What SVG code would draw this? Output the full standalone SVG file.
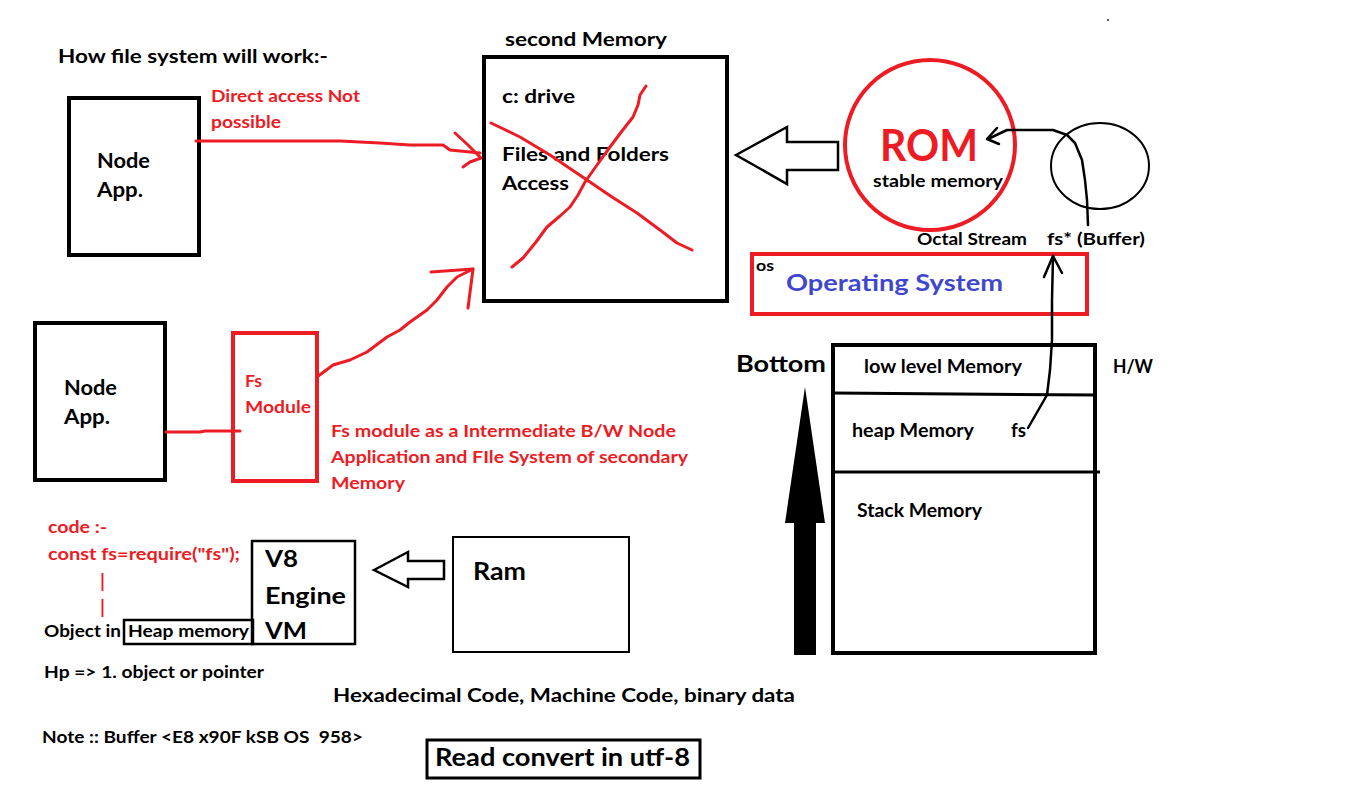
<svg xmlns="http://www.w3.org/2000/svg" width="1360" height="811" viewBox="0 0 1360 811">
<style>
text{font-family:Lato,"Open Sans","Noto Sans",sans-serif;font-weight:bold;fill:#000}
.r{fill:#ed1c24}
.b{fill:#3f48cc}
.box{fill:none;stroke:#000;stroke-width:4}
.rbox{fill:none;stroke:#ed1c24;stroke-width:4}
.thin{fill:none;stroke:#000;stroke-width:2.5}
.rl{fill:none;stroke:#ed1c24;stroke-width:3;stroke-linecap:round;stroke-linejoin:round}
.bl{fill:none;stroke:#000;stroke-width:2.5;stroke-linecap:round;stroke-linejoin:round}
</style>
<rect width="1360" height="811" fill="#fff"/>
<rect x="1107" y="19" width="2" height="2" fill="#555"/>

<text x="58" y="63" font-size="19" textLength="270" lengthAdjust="spacingAndGlyphs">How file system will work:-</text>

<g id="node-app-1">
<rect class="box" x="69" y="98" width="130" height="157"/>
<text x="97" y="168" font-size="20" textLength="53" lengthAdjust="spacingAndGlyphs">Node</text>
<text x="97" y="197" font-size="20" textLength="46" lengthAdjust="spacingAndGlyphs">App.</text>
</g>
<g id="direct-label">
<text class="r" x="211" y="102" font-size="17" textLength="149" lengthAdjust="spacingAndGlyphs">Direct access Not</text>
<text class="r" x="211" y="128" font-size="17" textLength="70" lengthAdjust="spacingAndGlyphs">possible</text>
</g>

<g id="second-memory">
<text x="505" y="46" font-size="19" textLength="162" lengthAdjust="spacingAndGlyphs">second Memory</text>
<rect class="box" x="484" y="57" width="243" height="244"/>
<text x="502" y="103" font-size="19" textLength="73" lengthAdjust="spacingAndGlyphs">c: drive</text>
<text x="502" y="161" font-size="19" textLength="167" lengthAdjust="spacingAndGlyphs">Files and Folders</text>
<text x="502" y="190" font-size="19" textLength="67" lengthAdjust="spacingAndGlyphs">Access</text>
<polyline class="rl" points="491,123 520,137 550,155 587,180 612,197 637,213 660,230 677,243 692,250"/>
<polyline class="rl" points="512,267 523,258 536,242 547,227 560,216 570,207 578,195 585,182 597,165 610,147 622,131 633,117 638,105 640,95 646,86"/>
</g>

<g id="rom">
<ellipse cx="930" cy="145" rx="85" ry="85" fill="none" stroke="#ed1c24" stroke-width="4"/>
<text class="r" x="880" y="161" font-size="43" textLength="98" lengthAdjust="spacingAndGlyphs">ROM</text>
<text x="873" y="187" font-size="17" textLength="130" lengthAdjust="spacingAndGlyphs">stable memory</text>
</g>

<g id="buffer">
<ellipse cx="1100" cy="166" rx="49" ry="43" fill="none" stroke="#000" stroke-width="2"/>
<text x="1047" y="245" font-size="17" textLength="98" lengthAdjust="spacingAndGlyphs">fs* (Buffer)</text>
</g>
<text x="917" y="245" font-size="17" textLength="110" lengthAdjust="spacingAndGlyphs">Octal Stream</text>

<g id="os">
<rect class="rbox" x="752" y="254" width="335" height="60"/>
<text x="756" y="271" font-size="16" textLength="18" lengthAdjust="spacingAndGlyphs">os</text>
<text class="b" x="786" y="291" font-size="23" textLength="217" lengthAdjust="spacingAndGlyphs">Operating System</text>
</g>

<g id="memory-stack">
<rect class="box" x="833" y="345" width="262" height="308"/>
<polyline fill="none" stroke="#000" stroke-width="3" points="833,393 1095,395"/>
<polyline fill="none" stroke="#000" stroke-width="3" points="833,472 1100,472"/>
<text x="864" y="373" font-size="18" textLength="158" lengthAdjust="spacingAndGlyphs">low level Memory</text>
<text x="852" y="437" font-size="18" textLength="122" lengthAdjust="spacingAndGlyphs">heap Memory</text>
<text x="1011" y="437" font-size="18" textLength="15" lengthAdjust="spacingAndGlyphs">fs</text>
<text x="857" y="517" font-size="18" textLength="125" lengthAdjust="spacingAndGlyphs">Stack Memory</text>
</g>
<text x="1113" y="373" font-size="18" textLength="40" lengthAdjust="spacingAndGlyphs">H/W</text>

<g id="bottom-arrow">
<text x="736" y="372" font-size="23" textLength="90" lengthAdjust="spacingAndGlyphs">Bottom</text>
<polygon points="805,387 825,523 816,523 816,655 794,655 794,523 785,523" fill="#000"/>
</g>

<g id="node-app-2">
<rect class="box" x="35" y="323" width="130" height="157"/>
<text x="64" y="395" font-size="20" textLength="53" lengthAdjust="spacingAndGlyphs">Node</text>
<text x="64" y="424" font-size="20" textLength="46" lengthAdjust="spacingAndGlyphs">App.</text>
</g>

<g id="fs-module">
<rect class="rbox" x="233" y="333" width="84" height="148"/>
<text class="r" x="245" y="387" font-size="17" textLength="17" lengthAdjust="spacingAndGlyphs">Fs</text>
<text class="r" x="245" y="413" font-size="17" textLength="66" lengthAdjust="spacingAndGlyphs">Module</text>
</g>
<g id="fs-note">
<text class="r" x="331" y="437" font-size="17" textLength="345" lengthAdjust="spacingAndGlyphs">Fs module as a Intermediate B/W Node</text>
<text class="r" x="331" y="463" font-size="17" textLength="357" lengthAdjust="spacingAndGlyphs">Application and FIle System of secondary</text>
<text class="r" x="331" y="489" font-size="17" textLength="74" lengthAdjust="spacingAndGlyphs">Memory</text>
</g>

<g id="code">
<text class="r" x="48" y="533" font-size="17" textLength="59" lengthAdjust="spacingAndGlyphs">code :-</text>
<text class="r" x="48" y="560" font-size="17" textLength="192" lengthAdjust="spacingAndGlyphs">const fs=require("fs");</text>
<text class="r" x="100" y="588" font-size="19" font-weight="900">|</text>
<text class="r" x="100" y="614" font-size="19" font-weight="900">|</text>
<text x="44" y="637" font-size="17" textLength="77" lengthAdjust="spacingAndGlyphs">Object in</text>
</g>
<g id="heap-memory">
<rect x="124" y="620" width="129" height="24" fill="none" stroke="#000" stroke-width="2.5"/>
<text x="128" y="637" font-size="17" textLength="121" lengthAdjust="spacingAndGlyphs">Heap memory</text>
</g>
<g id="v8">
<rect class="thin" x="252" y="541" width="103" height="103"/>
<text x="265" y="567" font-size="23" textLength="33" lengthAdjust="spacingAndGlyphs">V8</text>
<text x="265" y="604" font-size="23" textLength="81" lengthAdjust="spacingAndGlyphs">Engine</text>
<text x="265" y="639" font-size="23" textLength="42" lengthAdjust="spacingAndGlyphs">VM</text>
</g>
<g id="ram">
<rect x="453" y="537" width="176" height="115" fill="none" stroke="#000" stroke-width="2"/>
<text x="473" y="580" font-size="24" textLength="53" lengthAdjust="spacingAndGlyphs">Ram</text>
</g>

<text x="44" y="678" font-size="17" textLength="220" lengthAdjust="spacingAndGlyphs">Hp =&gt; 1. object or pointer</text>
<text x="333" y="702" font-size="19" textLength="462" lengthAdjust="spacingAndGlyphs">Hexadecimal Code, Machine Code, binary data</text>
<text x="42" y="743" font-size="17" textLength="321" lengthAdjust="spacingAndGlyphs" xml:space="preserve">Note :: Buffer &lt;E8 x90F kSB OS  958&gt;</text>
<g id="read-convert">
<rect x="427" y="740" width="273" height="38" fill="none" stroke="#000" stroke-width="3"/>
<text x="435" y="766" font-size="24" textLength="255" lengthAdjust="spacingAndGlyphs">Read convert in utf-8</text>
</g>

<g id="connectors">
<polyline class="rl" points="196,141 250,141 300,141 340,141 380,143 410,145 443,145 450,150 470,152 480,153"/>
<polyline class="rl" points="455,133 468,145 480,157"/>
<polyline class="rl" points="463,167 470,162 481,158"/>
<polyline class="rl" points="166,432 200,432 205,431 240,431"/>
<polyline class="rl" points="317,377 333,365 350,360 367,352 387,337 400,330 410,322 427,310 437,300 447,287 457,277 473,269"/>
<polyline class="rl" points="431,272 473,269 468,308"/>
<polygon points="736,155 787,127 787,142 838,142 838,170 787,170 787,184" fill="#fff" stroke="#000" stroke-width="2.5" stroke-linejoin="miter"/>
<polygon points="374,570 408,552 408,561 444,561 444,579 408,579 408,587" fill="#fff" stroke="#000" stroke-width="2.5"/>
<polyline class="bl" points="1088,225 1087,200 1085,180 1082,160 1075,143 1067,135 1053,130 1020,130 1007,130 988,139"/>
<polyline class="bl" points="997,128 987,139 999,144"/>
<polyline class="bl" points="1028,428 1047,395 1050,370 1052,340 1052,300 1053,256"/>
<polyline class="bl" points="1044,277 1053,256 1062,273"/>
</g>
</svg>
